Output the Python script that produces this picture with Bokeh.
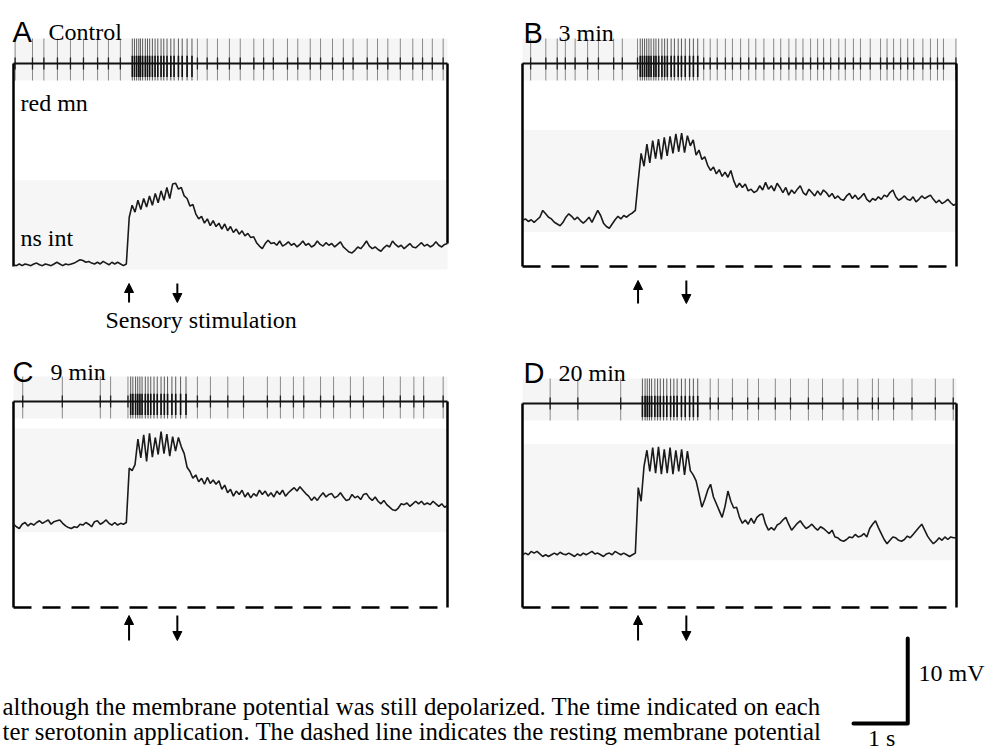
import numpy as np
from bokeh.plotting import figure
from bokeh.models import Range1d, Arrow, NormalHead
from bokeh.core.properties import value
from bokeh.embed import file_html
from bokeh.resources import INLINE

# ---------------- data (seconds, mV relative to resting potential) ----------------
SWEEP = 8.0        # sweep length (s); traces are digitised at 151 evenly spaced samples
SCALE_T = 1.0      # time scale bar (s)
SCALE_V = 10.0     # voltage scale bar (mV)

panel_letters = ["A", "B", "C", "D"]
panel_titles = ["Control", "3 min", "9 min", "20 min"]
stim_on = [2.13, 2.13, 2.13, 2.13]
stim_off = [3.02, 3.02, 3.02, 3.02]

ns_A = [0.2, 0.1, 0.3, 0.1, 0.3, 0.2, 0.1, 0.3, 0.4, 0.2,
        0.1, 0.3, 0.2, 0.1, 0.3, 0.5, 0.3, 0.1, 0.3, 0.2,
        0.3, 0.4, 0.6, 0.8, 0.7, 0.5, 0.6, 0.4, 0.3, 0.5,
        0.3, 0.6, 0.4, 0.2, 0.5, 0.3, 0.5, 0.3, 0.1, 0.3,
        5.8, 7.2, 6.4, 7.8, 6.7, 8.0, 7.0, 8.3, 7.2, 8.6,
        7.5, 8.9, 7.8, 9.3, 8.0, 9.7, 9.8, 9.1, 9.3, 8.3,
        8.0, 7.1, 7.3, 6.2, 5.6, 5.9, 5.1, 5.6, 4.8, 5.4,
        4.7, 5.1, 4.4, 5.0, 4.2, 4.7, 4.0, 4.4, 3.8, 4.2,
        3.6, 3.9, 3.4, 3.5, 2.8, 2.4, 2.1, 2.7, 3.1, 2.7,
        2.8, 2.5, 3.0, 2.4, 2.6, 2.9, 2.5, 2.7, 2.3, 2.6,
        3.0, 2.5, 2.7, 2.3, 2.5, 3.0, 2.6, 2.4, 2.8, 2.5,
        2.7, 2.3, 2.6, 2.9, 2.3, 2.0, 1.7, 1.6, 1.9, 2.3,
        2.1, 2.5, 3.0, 2.4, 2.1, 2.3, 2.0, 1.8, 2.2, 2.5,
        2.3, 3.0, 2.6, 2.3, 2.5, 2.1, 2.4, 2.7, 2.3, 2.2,
        2.5, 2.8, 2.4, 2.6, 2.3, 2.5, 2.9, 2.5, 2.3, 2.6, 2.7]

ns_B = [5.4, 5.6, 5.3, 5.5, 5.2, 5.5, 5.8, 6.6, 6.2, 5.8,
        5.6, 5.2, 5.0, 4.8, 5.2, 5.8, 6.2, 5.9, 5.5, 5.8,
        5.4, 5.1, 5.4, 5.8, 5.2, 5.9, 6.6, 6.0, 5.1, 4.7,
        4.5, 5.0, 5.5, 5.9, 5.6, 6.0, 5.8, 6.1, 6.3, 6.6,
        10.1, 13.3, 11.8, 14.4, 12.2, 14.8, 12.7, 15.0, 12.6, 15.2,
        13.0, 15.3, 13.3, 15.6, 13.5, 15.7, 13.4, 15.4, 14.2, 14.9,
        13.1, 13.7, 12.6, 12.9, 11.9, 11.3, 11.7, 10.9, 11.4, 10.6,
        11.1, 10.5, 11.3, 10.1, 9.3, 9.8, 9.3, 9.7, 8.9, 9.1,
        8.7, 8.9, 9.5, 9.0, 9.9, 9.1, 9.5, 8.9, 9.8, 9.3,
        8.7, 9.3, 8.4, 9.0, 8.6, 9.1, 9.5, 8.7, 8.4, 9.1,
        8.7, 8.3, 8.9, 8.4, 9.0, 8.7, 8.2, 8.6, 8.0, 8.3,
        7.9, 7.8, 8.3, 8.6, 8.0, 8.4, 7.9, 8.2, 8.6, 7.9,
        7.6, 8.0, 7.8, 8.2, 7.9, 8.4, 8.2, 8.7, 9.0, 8.2,
        7.8, 8.0, 8.3, 7.9, 7.8, 8.2, 7.6, 7.9, 8.3, 8.0,
        8.2, 8.4, 7.9, 7.5, 7.8, 7.4, 7.6, 7.9, 7.5, 7.2, 7.4]

ns_C = [9.8, 9.5, 9.3, 9.8, 10.0, 9.6, 9.9, 9.7, 10.0, 10.2,
        9.9, 10.1, 10.3, 9.8, 10.1, 10.2, 10.3, 9.9, 9.6, 9.4,
        9.3, 9.5, 9.4, 9.8, 9.7, 10.0, 9.8, 9.5, 10.1, 10.2,
        9.8, 10.0, 10.3, 9.9, 9.7, 10.0, 9.7, 9.9, 9.8, 10.0,
        16.4, 16.1, 16.8, 19.8, 17.6, 20.3, 17.2, 20.5, 17.7, 20.0,
        18.0, 20.7, 18.1, 20.4, 17.8, 20.1, 18.4, 20.0, 18.9, 18.1,
        16.5, 16.0, 15.2, 15.6, 14.8, 15.2, 14.5, 15.3, 14.6, 15.0,
        14.5, 14.9, 13.9, 14.4, 13.5, 13.9, 13.1, 13.7, 13.3, 13.8,
        13.0, 13.5, 12.9, 13.4, 13.1, 13.8, 13.3, 13.7, 13.1, 13.5,
        13.0, 13.7, 13.3, 13.8, 13.1, 13.5, 13.8, 14.1, 13.7, 14.2,
        13.8, 13.4, 13.1, 12.6, 13.0, 12.6, 13.1, 13.5, 13.0, 13.3,
        13.4, 12.9, 13.1, 13.5, 13.0, 12.6, 12.7, 13.3, 12.9, 13.1,
        12.7, 13.3, 13.4, 12.9, 12.6, 13.0, 12.5, 12.2, 12.6, 12.1,
        11.8, 11.5, 11.4, 11.7, 12.2, 12.1, 12.3, 11.9, 12.2, 12.5,
        12.2, 12.5, 12.1, 12.3, 12.1, 12.5, 12.2, 11.9, 12.2, 11.8, 12.0]

ns_D = [6.2, 6.4, 6.2, 6.6, 6.4, 6.6, 6.3, 6.0, 6.2, 6.0,
        6.2, 6.4, 6.2, 6.5, 6.3, 6.2, 6.4, 6.2, 6.0, 6.3,
        6.1, 6.4, 6.2, 6.4, 6.6, 6.3, 6.4, 6.2, 6.0, 6.3,
        6.4, 6.2, 6.6, 6.4, 6.2, 6.4, 6.2, 6.0, 6.2, 6.4,
        14.1, 12.5, 16.6, 18.5, 16.0, 18.8, 15.8, 18.9, 15.7, 18.6,
        15.8, 18.8, 15.7, 18.5, 16.0, 18.6, 15.6, 18.4, 16.1, 15.6,
        14.9, 13.4, 11.8, 12.7, 13.8, 14.5, 13.0, 12.2, 11.4, 10.6,
        11.9, 13.7, 12.5, 11.7, 11.8, 10.6, 9.9, 10.3, 9.8, 10.5,
        9.9, 10.6, 10.9, 11.0, 9.8, 9.1, 9.4, 9.1, 9.7, 9.9,
        10.3, 10.6, 9.8, 9.1, 9.5, 9.9, 10.2, 9.7, 9.3, 9.5,
        9.8, 9.4, 9.1, 9.5, 9.3, 9.0, 8.7, 9.1, 8.3, 8.2,
        7.9, 7.8, 8.0, 8.3, 8.2, 8.6, 8.3, 8.4, 8.7, 8.3,
        9.3, 9.8, 10.2, 9.4, 8.7, 8.0, 7.5, 7.9, 8.3, 8.2,
        7.9, 7.8, 8.0, 8.4, 8.2, 8.6, 9.0, 9.4, 9.8, 9.1,
        8.4, 7.9, 7.5, 7.8, 8.2, 7.9, 8.3, 8.0, 8.3, 8.2, 8.2]

# red mn spike times (s)
spikes_A = [0.03, 0.35, 0.56, 0.81, 1.05, 1.29, 1.55, 1.75, 1.97,
            3.39, 3.57, 3.76, 3.98, 4.18, 4.43, 4.61, 4.79, 5.05, 5.24, 5.47, 5.66,
            5.88, 6.08, 6.26, 6.52, 6.71, 6.90, 7.13, 7.36, 7.54, 7.72, 7.92]
burst_A = [2.19, 2.23, 2.27, 2.31, 2.34, 2.38, 2.43, 2.47, 2.51, 2.56, 2.61,
           2.66, 2.72, 2.77, 2.83, 2.90, 2.96, 3.04, 3.11, 3.20, 3.29]
spikes_B = [0.15, 0.43, 0.64, 0.79, 0.97, 1.20, 1.40, 1.68, 1.84, 2.12,
            3.34, 3.46, 3.59, 3.74, 3.87, 4.02, 4.17, 4.30, 4.45, 4.63, 4.76, 4.91,
            5.04, 5.17, 5.31, 5.44, 5.55, 5.68, 5.83, 5.95, 6.10, 6.23, 6.41, 6.60,
            6.72, 6.84, 6.97, 7.10, 7.21, 7.38, 7.52, 7.65, 7.76, 7.99]
burst_B = [2.17, 2.21, 2.25, 2.29, 2.33, 2.37, 2.42, 2.46, 2.51, 2.57, 2.62,
           2.67, 2.74, 2.80, 2.87, 2.93, 3.00, 3.08, 3.15, 3.23]
spikes_C = [0.17, 0.90, 1.60, 1.79, 2.11,
            3.39, 3.63, 3.95, 4.24, 4.68, 4.92, 5.16, 5.35, 5.66, 5.90, 6.21,
            6.45, 6.82, 7.13, 7.38, 7.56, 7.92]
burst_C = [2.16, 2.20, 2.25, 2.29, 2.33, 2.37, 2.43, 2.48, 2.53, 2.59, 2.65,
           2.72, 2.78, 2.84, 2.92, 2.99, 3.08, 3.18]
spikes_D = [0.51, 1.02, 1.81,
            3.46, 3.61, 3.87, 4.15, 4.35, 4.66, 4.94, 5.27, 5.53, 5.91, 6.18,
            6.45, 6.56, 6.84, 7.18, 7.61, 7.94]
burst_D = [2.21, 2.26, 2.30, 2.34, 2.38, 2.44, 2.49, 2.54, 2.60, 2.66, 2.73,
           2.79, 2.85, 2.93, 3.00, 3.08, 3.15, 3.23]

caption_1 = "although the membrane potential was still depolarized. The time indicated on each"
caption_2 = "ter serotonin application. The dashed line indicates the resting membrane potential"

# ---------------- layout / style ----------------
W, H = 998, 752
X0, X1, Y0, Y1 = 0, 998, 0, 752          # page-pixel window covered by the figure
PX_PER_S = 54.25
PX_PER_MV = 8.5
SERIF = value("Liberation Serif")
SANS = value("Liberation Sans")

p = figure(width=W, height=H, x_range=Range1d(X0, X1), y_range=Range1d(Y1, Y0),
           output_backend="svg", toolbar_location=None,
           x_axis_type=None, y_axis_type=None, min_border=0,
           outline_line_color=None, background_fill_color="white",
           border_fill_color="white")

# left edge, resting line, red-mn row (page px); arrow tip/tail below rest (px)
panels = [
    dict(trace=ns_A, sp=spikes_A, bu=burst_A, left=13, rest=266, top=63, dashed=False, arr=(17, 36)),
    dict(trace=ns_B, sp=spikes_B, bu=burst_B, left=522, rest=266, top=63, dashed=True, arr=(14, 37)),
    dict(trace=ns_C, sp=spikes_C, bu=burst_C, left=13, rest=607, top=401, dashed=True, arr=(8, 33)),
    dict(trace=ns_D, sp=spikes_D, bu=burst_D, left=522, rest=607, top=403, dashed=True, arr=(8, 33)),
]
UP, DOWN = 25 / PX_PER_MV, 17 / PX_PER_MV   # spike extent around the red-mn baseline

for k, pn in enumerate(panels):
    xr, yr = f"x{k}", f"y{k}"
    p.extra_x_ranges[xr] = Range1d((X0 - pn["left"]) / PX_PER_S, (X1 - pn["left"]) / PX_PER_S)
    p.extra_y_ranges[yr] = Range1d((pn["rest"] - Y1) / PX_PER_MV, (pn["rest"] - Y0) / PX_PER_MV)
    kw = dict(x_range_name=xr, y_range_name=yr)

    v = np.array(pn["trace"])
    t = np.linspace(0, SWEEP, len(v))
    base = (pn["rest"] - pn["top"]) / PX_PER_MV     # level of the red mn row

    # faint scanned backgrounds
    p.quad(left=0, right=SWEEP, bottom=v.min() - 0.45, top=v.max() + 0.35,
           fill_color="#f6f6f6", line_color=None, **kw)
    p.quad(left=0, right=SWEEP, bottom=base - DOWN, top=base + UP,
           fill_color="#f5f5f5", line_color=None, **kw)

    # red mn spikes
    sp = np.array(pn["sp"])
    p.segment(x0=sp, y0=base - DOWN, x1=sp, y1=base + UP, line_color="#8a8a8a",
              line_width=1, **kw)
    p.segment(x0=sp, y0=base - 0.7, x1=sp, y1=base + 0.7, line_color="#222222",
              line_width=1.3, **kw)
    bu = np.array(pn["bu"])
    p.segment(x0=bu, y0=base - DOWN, x1=bu, y1=base + UP, line_color="#5a5a5a",
              line_width=1, **kw)
    p.segment(x0=bu, y0=base - 1.6, x1=bu, y1=base + 0.9, line_color="#111111",
              line_width=1.6, **kw)
    p.line([0, SWEEP], [base, base], line_color="#111111", line_width=2.2, **kw)

    # frame
    right_end = v[-1] if not pn["dashed"] else 0.0
    p.line([0, 0], [base, 0], line_color="black", line_width=2.5, **kw)
    p.line([SWEEP, SWEEP], [base, right_end], line_color="black", line_width=2.5, **kw)
    if pn["dashed"]:
        p.line([0, SWEEP], [0, 0], line_color="black", line_width=2.5,
               line_dash="18 11", **kw)

    # ns int trace
    p.line(t, v, line_color="#1a1a1a", line_width=1.6, **kw)

    # stimulation arrows
    tip, tail = -pn["arr"][0] / PX_PER_MV, -pn["arr"][1] / PX_PER_MV
    head = dict(size=9, fill_color="black", line_color="black")
    p.add_layout(Arrow(x_start=stim_on[k], y_start=tail, x_end=stim_on[k], y_end=tip,
                       end=NormalHead(**head), line_width=2, line_color="black", **kw))
    p.add_layout(Arrow(x_start=stim_off[k], y_start=tip, x_end=stim_off[k], y_end=tail,
                       end=NormalHead(**head), line_width=2, line_color="black", **kw))

# panel letters and titles
p.text(x=[12, 523, 12, 523], y=[31, 32, 371, 372], text=panel_letters,
       text_font=SANS, text_font_size="29px", text_baseline="alphabetic",
       text_color="black")
p.text(x=[48, 558, 50, 558], y=[31, 32, 371, 372], text=panel_titles,
       text_font=SERIF, text_font_size="24px", text_baseline="alphabetic",
       text_color="black")
p.text(x=[20, 20, 105], y=[102, 237, 319],
       text=["red mn", "ns int", "Sensory stimulation"],
       text_font=SERIF, text_font_size="24px", text_baseline="alphabetic",
       text_color="black")

# caption fragment
p.text(x=[2, 2], y=[706, 731], text=[caption_1, caption_2],
       text_font=SERIF, text_font_size="24.8px", text_baseline="alphabetic",
       text_color="black")

# scale bar (1 s, 10 mV)
BX, BY = 853, 723
p.extra_x_ranges["bx"] = Range1d((X0 - BX) / PX_PER_S, (X1 - BX) / PX_PER_S)
p.extra_y_ranges["by"] = Range1d((BY - Y1) / PX_PER_MV, (BY - Y0) / PX_PER_MV)
p.line([0, SCALE_T, SCALE_T], [0, 0, SCALE_V], line_color="black", line_width=4,
       line_join="round", line_cap="round", x_range_name="bx", y_range_name="by")
p.text(x=[SCALE_T * 1.2], y=[SCALE_V * 0.6], text=[f"{SCALE_V:g} mV"],
       text_font=SERIF, text_font_size="24px", text_baseline="middle",
       x_range_name="bx", y_range_name="by")
p.text(x=[SCALE_T * 0.52], y=[-1.7], text=[f"{SCALE_T:g} s"],
       text_font=SERIF, text_font_size="24px", text_baseline="middle",
       text_align="center", x_range_name="bx", y_range_name="by")

open("out.html", "w").write(file_html(p, INLINE))
